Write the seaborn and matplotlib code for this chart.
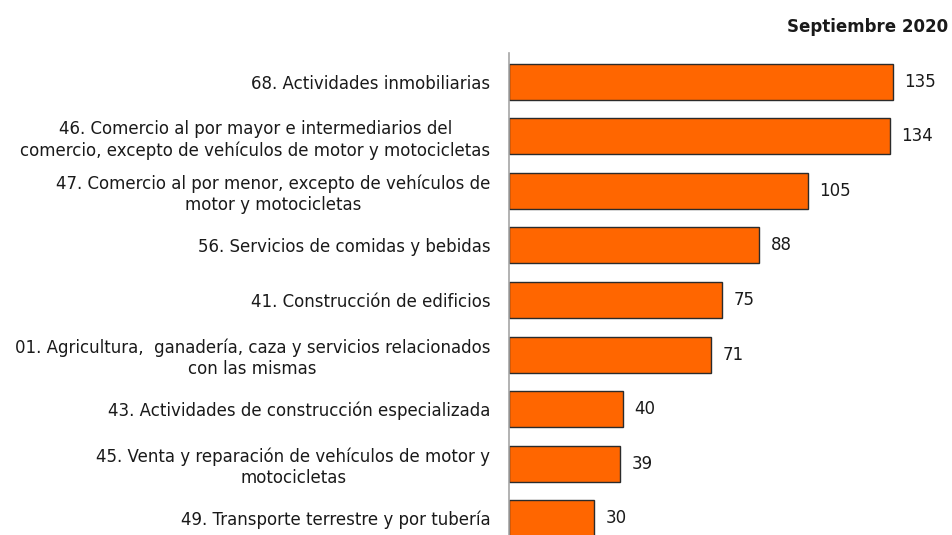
import matplotlib
matplotlib.use("Agg")
import matplotlib.pyplot as plt
import seaborn as sns
import pandas as pd

categories = [
    "68. Actividades inmobiliarias",
    "46. Comercio al por mayor e intermediarios del\ncomercio, excepto de vehículos de motor y motocicletas",
    "47. Comercio al por menor, excepto de vehículos de\nmotor y motocicletas",
    "56. Servicios de comidas y bebidas",
    "41. Construcción de edificios",
    "01. Agricultura,  ganadería, caza y servicios relacionados\ncon las mismas",
    "43. Actividades de construcción especializada",
    "45. Venta y reparación de vehículos de motor y\nmotocicletas",
    "49. Transporte terrestre y por tubería",
]
values = [135, 134, 105, 88, 75, 71, 40, 39, 30]
title = "Septiembre 2020"

df = pd.DataFrame({"actividad": categories, "valor": values})

sns.set_style("white")
plt.rcParams["font.family"] = ["DejaVu Sans"]

fig = plt.figure(figsize=(9.52, 5.35), dpi=100)
ax = fig.add_axes([509 / 952, 0.0, 1 - 509 / 952, (535 - 53) / 535])

sns.barplot(data=df, y="actividad", x="valor", orient="h", order=categories,
            color="#FF6600", saturation=1, width=0.66,
            edgecolor="#2b2b2b", linewidth=1.0, ax=ax)

ax.set_xlim(0, 155.8)
ax.set_ylim(8.31, -0.53)
ax.set_xlabel("")
ax.set_ylabel("")
ax.set_xticks([])

for s in ["top", "right", "bottom"]:
    ax.spines[s].set_visible(False)
ax.spines["left"].set_color("#a6a6a6")
ax.spines["left"].set_linewidth(1.2)

ax.tick_params(axis="y", length=0, pad=13.5, labelsize=12, labelcolor="#1a1a1a")
for lab in ax.get_yticklabels():
    lab.set_multialignment("center")
    lab.set_linespacing(1.2)

for i, v in enumerate(values):
    ax.text(v + 4.0, i, f"{v}", va="center", ha="left", fontsize=12, color="#1a1a1a")

fig.text(948 / 952, 1 - 27 / 535, title, ha="right", va="center",
         fontsize=12, fontweight="bold", color="#1a1a1a")

fig.savefig("out.png", dpi=100)
